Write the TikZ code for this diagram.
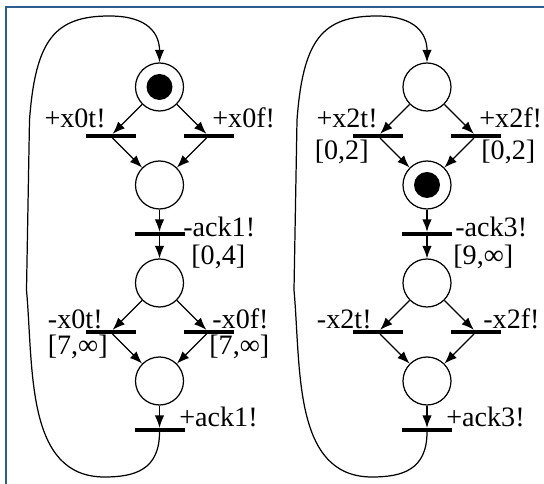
\documentclass[tikz,border=0pt]{standalone}
\usepackage{fontspec}
\setmainfont{Liberation Serif}
\usetikzlibrary{arrows.meta}
\definecolor{framebl}{HTML}{2E5C8C}

\tikzset{
  place/.style={circle, draw, line width=0.7pt, minimum size=0.96cm, inner sep=0pt},
  token/.style={path picture={\fill (path picture bounding box.center) circle (0.26);}},
  bar/.style={rectangle, fill=black, minimum width=1cm, minimum height=0.07cm, inner sep=0pt},
  arc/.style={line width=0.7pt, -{Latex[length=2.5mm,width=1.9mm]}},
  lbl/.style={inner sep=0pt, font=\rmfamily\fontsize{16}{19}\selectfont},
}

\begin{document}
\begin{tikzpicture}
  \useasboundingbox (0,0) rectangle (10.88,9.68);
  \draw[framebl, line width=1.1pt] (0.12,0) |- (10.88,9.54);

  % first net (x0 / ack1)
  \begin{scope}[shift={(3.19,0)}]
    \node[place, token] (idleA) at (0,7.94) {};
    \node[bar] (xtA) at (-0.98,6.96) {};
    \node[bar] (xfA) at (0.98,6.96) {};
    \node[place] (sentA) at (0,5.98) {};
    \node[bar] (ackA) at (0,5.00) {};
    \node[place] (ackdA) at (0,4.02) {};
    \node[bar] (xtrA) at (-0.98,3.04) {};
    \node[bar] (xfrA) at (0.98,3.04) {};
    \node[place] (resetA) at (0,2.06) {};
    \node[bar] (ackrA) at (0,1.08) {};

    \node[lbl, anchor=east] (lxtA) at (-1.07,7.32) {+x0t!};
    \node[lbl, anchor=west] (lxfA) at (1.05,7.32) {+x0f!};
    \node[lbl, anchor=west] (lackA) at (0.47,5.14) {-ack1!};
    \node[lbl, anchor=west] (iackA) at (0.63,4.54) {[0,4]};
    \node[lbl, anchor=east] (lxtrA) at (-1.13,3.30) {-x0t!};
    \node[lbl, anchor=east] (ixtrA) at (-1.03,2.74) {[7,∞]};
    \node[lbl, anchor=west] (lxfrA) at (1.05,3.30) {-x0f!};
    \node[lbl, anchor=west] (ixfrA) at (0.99,2.74) {[7,∞]};
    \node[lbl, anchor=west] (lackrA) at (0.39,1.34) {+ack1!};

    \draw[arc] (idleA) -- (xtA);
    \draw[arc] (idleA) -- (xfA);
    \draw[arc] (xtA) -- (sentA);
    \draw[arc] (xfA) -- (sentA);
    \draw[arc] (sentA) -- (ackA);
    \draw[arc] (ackA) -- (ackdA);
    \draw[arc] (ackdA) -- (xtrA);
    \draw[arc] (ackdA) -- (xfrA);
    \draw[arc] (xtrA) -- (resetA);
    \draw[arc] (xfrA) -- (resetA);
    \draw[arc] (resetA) -- (ackrA);
    % loop back round the left side
    \coordinate (botA) at (-1.1,0.14);
    \coordinate (sideA) at (-2.66,3.88);
    \coordinate (upA) at (-2.6,7.28);
    \coordinate (topA) at (-1.0,9.36);
    \draw[arc] (ackrA.south) .. controls (0,0.28) and (-0.5,0.14) .. (botA)
      .. controls (-2.68,0.14) and (-2.52,2.30) .. (sideA) -- (upA)
      .. controls (-2.48,8.88) and (-2.1,9.36) .. (topA)
      .. controls (-0.2,9.36) and (0,8.98) .. (idleA.north);
  \end{scope}

  % second net (x2 / ack3)
  \begin{scope}[shift={(8.54,0)}]
    \node[place] (idleB) at (0,7.94) {};
    \node[bar] (xtB) at (-0.98,6.96) {};
    \node[bar] (xfB) at (0.98,6.96) {};
    \node[place, token] (sentB) at (0,5.98) {};
    \node[bar] (ackB) at (0,5.00) {};
    \node[place] (ackdB) at (0,4.02) {};
    \node[bar] (xtrB) at (-0.98,3.04) {};
    \node[bar] (xfrB) at (0.98,3.04) {};
    \node[place] (resetB) at (0,2.06) {};
    \node[bar] (ackrB) at (0,1.08) {};

    \node[lbl, anchor=east] (lxtB) at (-0.98,7.32) {+x2t!};
    \node[lbl, anchor=east] (ixtB) at (-1.16,6.64) {[0,2]};
    \node[lbl, anchor=west] (lxfB) at (1.04,7.32) {+x2f!};
    \node[lbl, anchor=west] (ixfB) at (1.08,6.64) {[0,2]};
    \node[lbl, anchor=west] (lackB) at (0.56,5.14) {-ack3!};
    \node[lbl, anchor=west] (iackB) at (0.52,4.54) {[9,∞]};
    \node[lbl, anchor=east] (lxtrB) at (-1.10,3.30) {-x2t!};
    \node[lbl, anchor=west] (lxfrB) at (1.12,3.30) {-x2f!};
    \node[lbl, anchor=west] (lackrB) at (0.38,1.34) {+ack3!};

    \draw[arc] (idleB) -- (xtB);
    \draw[arc] (idleB) -- (xfB);
    \draw[arc] (xtB) -- (sentB);
    \draw[arc] (xfB) -- (sentB);
    \draw[arc] (sentB) -- (ackB);
    \draw[arc] (ackB) -- (ackdB);
    \draw[arc] (ackdB) -- (xtrB);
    \draw[arc] (ackdB) -- (xfrB);
    \draw[arc] (xtrB) -- (resetB);
    \draw[arc] (xfrB) -- (resetB);
    \draw[arc] (resetB) -- (ackrB);
    % loop back round the left side
    \coordinate (botB) at (-1.1,0.14);
    \coordinate (sideB) at (-2.66,3.88);
    \coordinate (upB) at (-2.6,7.28);
    \coordinate (topB) at (-1.0,9.36);
    \draw[arc] (ackrB.south) .. controls (0,0.28) and (-0.5,0.14) .. (botB)
      .. controls (-2.68,0.14) and (-2.52,2.30) .. (sideB) -- (upB)
      .. controls (-2.48,8.88) and (-2.1,9.36) .. (topB)
      .. controls (-0.2,9.36) and (0,8.98) .. (idleB.north);
  \end{scope}
\end{tikzpicture}
\end{document}
